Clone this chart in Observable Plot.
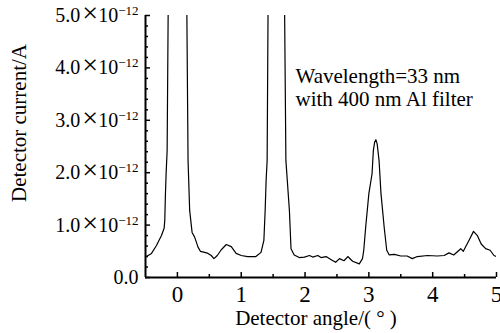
<!DOCTYPE html>
<html><head><meta charset="utf-8">
<script src="https://cdn.jsdelivr.net/npm/d3@7"></script>
<script src="https://cdn.jsdelivr.net/npm/@observablehq/plot@0.6"></script>
<style>
html,body{margin:0;padding:0;background:#fff;overflow:hidden;font-family:"Liberation Serif",serif}
</style>
</head><body><div id="chart"></div>
<script>
// Detector angle (degrees)
const angle = [-0.5,-0.406,-0.328,-0.25,-0.208,-0.198,-0.1875,-0.177,-0.161,-0.145,-0.14,0.005,0.145,0.148,0.167,0.192,0.23,0.27,0.323,0.36,0.427,0.48,0.53,0.573,0.625,0.6875,0.766,0.844,0.92,1.0,1.10,1.156,1.23,1.31,1.355,1.375,1.39,1.406,1.42,1.425,1.55,1.675,1.68,1.70,1.755,1.78,1.83,1.91,1.99,2.07,2.12,2.20,2.25,2.33,2.41,2.48,2.54,2.61,2.67,2.745,2.85,2.90,2.92,2.95,3.00,3.05,3.07,3.09,3.11,3.13,3.16,3.19,3.24,3.28,3.32,3.40,3.5,3.60,3.68,3.76,3.92,4.07,4.18,4.255,4.33,4.44,4.48,4.57,4.64,4.70,4.76,4.83,4.90,4.96,5.0];
// Detector current (×1e-12 A); peaks at 0° and ~1.55° exceed the axis and are clipped
const current = [0.39,0.46,0.61,0.80,0.94,1.09,1.60,1.98,2.42,5.04,5.5,9.0,5.5,5.04,2.23,1.28,0.86,0.77,0.58,0.50,0.48,0.46,0.42,0.36,0.42,0.53,0.63,0.59,0.46,0.42,0.40,0.40,0.40,0.48,0.71,1.28,1.85,2.23,5.04,5.5,9.0,5.5,5.04,2.23,1.28,0.55,0.43,0.38,0.39,0.42,0.39,0.42,0.38,0.40,0.34,0.29,0.36,0.32,0.40,0.31,0.26,0.36,0.52,0.96,1.60,1.98,2.42,2.58,2.63,2.55,2.23,1.60,0.96,0.52,0.43,0.44,0.41,0.41,0.36,0.40,0.42,0.41,0.42,0.47,0.43,0.55,0.50,0.71,0.88,0.80,0.64,0.55,0.52,0.42,0.40];

const xMajorTicks = [0,1,2,3,4,5];
const xMinorTicks = [0.5,1.5,2.5,3.5,4.5];
const yMajorTicks = [0,1,2,3,4,5];
const yMinorTicks = [0.2,0.4,0.6,0.8,1.2,1.4,1.6,1.8,2.2,2.4,2.6,2.8,3.2,3.4,3.6,3.8,4.2,4.4,4.6,4.8];
const yTickLabels = ["0.0","1.0×10^−12","2.0×10^−12","3.0×10^−12","4.0×10^−12","5.0×10^−12"];
const annotation = "Wavelength=33 nm\nwith 400 nm Al filter";
const xTitle = "Detector angle/( ° )";
const yTitle = "Detector current/A";

const data = angle.map((a, i) => ({a, c: current[i]}));
const FF = "Liberation Serif";

const plot = Plot.plot({
  width: 500, height: 333,
  marginLeft: 145, marginRight: 4, marginTop: 15, marginBottom: 56,
  style: {background: "white", color: "black", overflow: "visible", fontFamily: FF},
  x: {domain: [-0.5, 5]},
  y: {domain: [0, 5]},
  marks: [
    Plot.line(data, {x: "a", y: "c", stroke: "black", strokeWidth: 1.2, clip: true}),
    Plot.ruleX([-0.5], {stroke: "black", strokeWidth: 2}),
    Plot.ruleY([0], {stroke: "black", strokeWidth: 2}),
    Plot.axisX(xMajorTicks, {tickSize: 5, dy: -5, tickFormat: () => "", label: null, strokeWidth: 1.5}),
    Plot.axisX(xMinorTicks, {tickSize: 3, dy: -3, tickFormat: () => "", label: null, strokeWidth: 1.5}),
    Plot.axisX(xMajorTicks, {tickSize: 0, tickPadding: 8, fontSize: 23, fontFamily: FF, tickFormat: d => String(d), label: null}),
    Plot.axisY(yMajorTicks, {tickSize: 5, dx: 5, tickFormat: () => "", label: null, strokeWidth: 1.5}),
    Plot.axisY(yMinorTicks, {tickSize: 3, dx: 3, tickFormat: () => "", label: null, strokeWidth: 1.5}),
    Plot.axisY(yMajorTicks, {tickSize: 0, tickPadding: 7, fontSize: 20, fontFamily: FF, tickFormat: d => yTickLabels[yMajorTicks.indexOf(d)], label: null}),
    Plot.text([annotation], {frameAnchor: "top-left", dx: 150, dy: 51, textAnchor: "start", lineAnchor: "top", fontSize: 21, fontFamily: FF, lineHeight: 1.1, fill: "black"}),
    Plot.text([yTitle], {frameAnchor: "left", rotate: -90, dx: -126.7, dy: -23.5, fontSize: 21, fontFamily: FF, textAnchor: "middle", lineAnchor: "middle", fill: "black"}),
    Plot.text([xTitle], {frameAnchor: "bottom", dx: -5, dy: 40.5, fontSize: 21, fontFamily: FF, lineAnchor: "middle", fill: "black"})
  ]
});

// superscript exponents in y tick labels
plot.querySelectorAll("text").forEach(t => {
  t.style.fontFamily = FF;
  const s = t.textContent;
  if (s.includes("^")) {
    const [base, exp] = s.split("^");
    const [mant, ten] = base.split("×");
    t.textContent = "";
    const ns = "http://www.w3.org/2000/svg";
    const t1 = document.createElementNS(ns, "tspan"); t1.textContent = mant;
    const t2 = document.createElementNS(ns, "tspan"); t2.textContent = "×"; t2.setAttribute("font-size", 28); t2.setAttribute("dx", 2);
    const t3 = document.createElementNS(ns, "tspan"); t3.textContent = ten;
    const t4 = document.createElementNS(ns, "tspan"); t4.textContent = exp; t4.setAttribute("font-size", 13); t4.setAttribute("dy", -7);
    t.append(t1, t2, t3, t4);
  }
});

document.getElementById("chart").appendChild(plot);
</script>
</body></html>
